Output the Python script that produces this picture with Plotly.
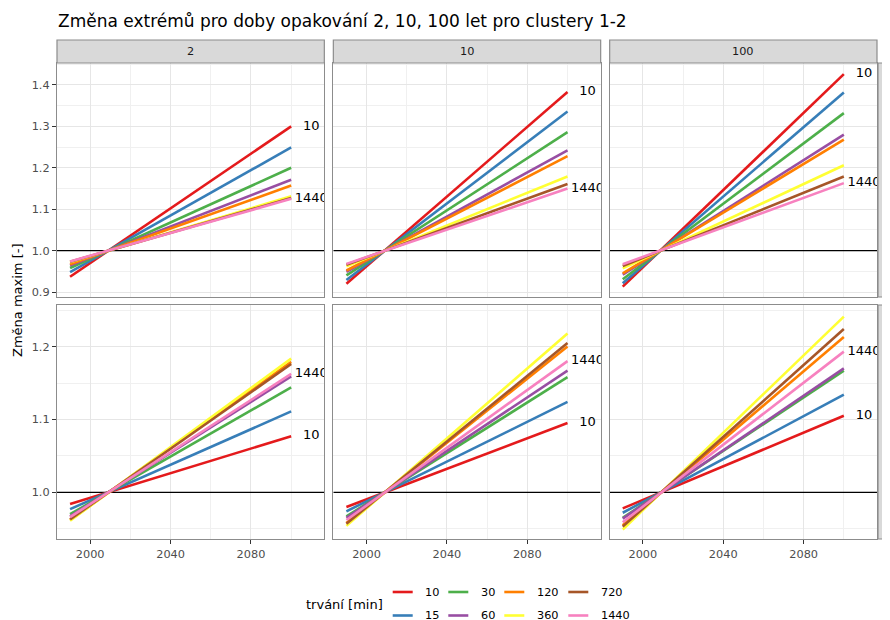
import plotly.graph_objects as go
from plotly.subplots import make_subplots

# ---------------- data ----------------
durations = [10, 15, 30, 60, 120, 360, 720, 1440]
colors = ["#E41A1C", "#377EB8", "#4DAF4A", "#984EA3", "#FF7F00", "#FFFF33", "#A65628", "#F781BF"]
return_periods = ["2", "10", "100"]
clusters = ["1", "2"]
years = [1990, 2100]
label_year = 2110
ref_value = 1.0

# cluster 1
c1_rp2_start = [0.937, 0.948, 0.958, 0.964, 0.967, 0.972, 0.973, 0.974]
c1_rp2_end = [1.300, 1.249, 1.200, 1.171, 1.157, 1.131, 1.127, 1.125]
c1_rp10_start = [0.920, 0.929, 0.940, 0.949, 0.952, 0.962, 0.966, 0.968]
c1_rp10_end = [1.383, 1.336, 1.286, 1.242, 1.228, 1.179, 1.161, 1.150]
c1_rp100_start = [0.913, 0.921, 0.931, 0.942, 0.945, 0.957, 0.963, 0.967]
c1_rp100_end = [1.426, 1.382, 1.332, 1.280, 1.268, 1.206, 1.179, 1.163]
# cluster 2
c2_rp2_start = [0.984, 0.977, 0.970, 0.967, 0.962, 0.961, 0.963, 0.966]
c2_rp2_end = [1.077, 1.111, 1.144, 1.159, 1.179, 1.1835, 1.176, 1.1625]
c2_rp10_start = [0.980, 0.974, 0.967, 0.965, 0.958, 0.954, 0.957, 0.962]
c2_rp10_end = [1.095, 1.124, 1.158, 1.167, 1.200, 1.218, 1.205, 1.180]
c2_rp100_start = [0.978, 0.972, 0.965, 0.964, 0.955, 0.949, 0.953, 0.959]
c2_rp100_end = [1.105, 1.134, 1.167, 1.170, 1.213, 1.241, 1.224, 1.193]

panels = {
    ("1", "2"): (c1_rp2_start, c1_rp2_end),
    ("1", "10"): (c1_rp10_start, c1_rp10_end),
    ("1", "100"): (c1_rp100_start, c1_rp100_end),
    ("2", "2"): (c2_rp2_start, c2_rp2_end),
    ("2", "10"): (c2_rp10_start, c2_rp10_end),
    ("2", "100"): (c2_rp100_start, c2_rp100_end),
}
y_ranges = {"1": [0.888, 1.453], "2": [0.936, 1.257]}
x_range = [1983.5, 2116.5]

# ---------------- layout geometry ----------------
# page positions below are measured in the browser window; the figure sits at an 8 px page offset
OFF = 8
W, H = 890, 620
ML, MR, MT, MB = 49, 21, 55, 89
PW, PH = W - ML - MR, H - MT - MB
FONT = "DejaVu Sans"
BORDER = "#8C8C8C"

def px_x(x):
    return (x - OFF - ML) / PW

def px_y(y):
    return (H - MB - (y - OFF)) / PH

fig = make_subplots(rows=2, cols=3, horizontal_spacing=9 / PW, vertical_spacing=8 / PH)

for r, cl in enumerate(clusters, start=1):
    for c, rp in enumerate(return_periods, start=1):
        start, end = panels[(cl, rp)]
        # reference line at 1.0 across the panel (drawn first, under the series)
        fig.add_trace(go.Scatter(x=x_range, y=[ref_value, ref_value], mode="lines",
                                 line=dict(color="#000000", width=1.3),
                                 showlegend=False, hoverinfo="skip"),
                      row=r, col=c)
        for i, d in enumerate(durations):
            fig.add_trace(go.Scatter(x=years, y=[start[i], end[i]], mode="lines",
                                     line=dict(color=colors[i], width=2.6),
                                     name=str(d), showlegend=False, hoverinfo="skip"),
                          row=r, col=c)
        fig.add_trace(go.Scatter(x=[label_year, label_year], y=[end[0], end[-1]],
                                 text=[str(durations[0]), str(durations[-1])],
                                 mode="text", textposition="middle center",
                                 textfont=dict(family=FONT, size=13, color="#000000"),
                                 cliponaxis=True, showlegend=False, hoverinfo="skip"),
                      row=r, col=c)

        fig.update_xaxes(row=r, col=c, range=x_range, dtick=40, tick0=2000,
                         showgrid=True, gridcolor="#E6E6E6", gridwidth=1.1,
                         minor=dict(dtick=20, tick0=2000, showgrid=True, gridcolor="#F0F0F0", gridwidth=0.7),
                         showline=True, mirror=True, linecolor=BORDER, linewidth=1.2,
                         zeroline=False,
                         showticklabels=(r == 2), ticks="outside" if r == 2 else "",
                         ticklen=4, tickcolor="#333333",
                         tickfont=dict(family=FONT, size=11.3, color="#4D4D4D"))
        fig.update_yaxes(row=r, col=c, range=y_ranges[cl], dtick=0.1, tick0=0.9,
                         tickformat=".1f",
                         showgrid=True, gridcolor="#E6E6E6", gridwidth=1.1,
                         minor=dict(dtick=0.05, tick0=0.9, showgrid=True, gridcolor="#F0F0F0", gridwidth=0.7),
                         showline=True, mirror=True, linecolor=BORDER, linewidth=1.2,
                         zeroline=False,
                         showticklabels=(c == 1), ticks="outside" if c == 1 else "",
                         ticklen=4, tickcolor="#333333",
                         tickfont=dict(family=FONT, size=11.3, color="#4D4D4D"))

# strips on top (return periods)
for c, rp in enumerate(return_periods, start=1):
    sfx = "" if c == 1 else str(c)
    fig.add_shape(type="rect", xref=f"x{sfx} domain", yref="paper",
                  x0=0, x1=1, y0=1.0, y1=1.0 + 23 / PH,
                  fillcolor="#D9D9D9", line=dict(color=BORDER, width=1.2))
    fig.add_annotation(xref=f"x{sfx} domain", yref="paper", x=0.5, y=1.0 + 11.5 / PH,
                       text=rp, showarrow=False, xanchor="center", yanchor="middle",
                       font=dict(family=FONT, size=11.3, color="#1A1A1A"))

# strips on the right (clusters)
for r, cl in enumerate(clusters, start=1):
    idx = (r - 1) * 3 + 3
    fig.add_shape(type="rect", xref="paper", yref=f"y{idx} domain",
                  x0=1.0 + 1 / PW, x1=1.0 + 24 / PW, y0=0, y1=1,
                  fillcolor="#D9D9D9", line=dict(color=BORDER, width=1.2))
    fig.add_annotation(xref="paper", yref=f"y{idx} domain", x=1.0 + 12.5 / PW, y=0.5,
                       text=cl, showarrow=False, textangle=90,
                       xanchor="center", yanchor="middle",
                       font=dict(family=FONT, size=11.3, color="#1A1A1A"))

# y axis title
fig.add_annotation(xref="paper", yref="paper", x=px_x(17), y=px_y(301),
                   text="Změna maxim [-]", showarrow=False, textangle=-90,
                   xanchor="center", yanchor="middle",
                   font=dict(family=FONT, size=13, color="#000000"))

# legend (ggplot-like 2 rows x 4 columns, column-major)
legend_title = "trvání [min]"
fig.add_annotation(xref="paper", yref="paper", x=px_x(304), y=px_y(604),
                   text=legend_title, showarrow=False, xanchor="left", yanchor="middle",
                   font=dict(family=FONT, size=13, color="#000000"))
key_x = [392.7, 448.3, 504.3, 568.3]
row_y = [592, 615.5]
for i, d in enumerate(durations):
    col, row = i // 2, i % 2
    kx, ky = key_x[col], row_y[row]
    fig.add_shape(type="line", xref="paper", yref="paper",
                  x0=px_x(kx), x1=px_x(kx + 20), y0=px_y(ky), y1=px_y(ky),
                  line=dict(color=colors[i], width=2.6))
    fig.add_annotation(xref="paper", yref="paper", x=px_x(kx + 30.5), y=px_y(ky),
                       text=str(d), showarrow=False, xanchor="left", yanchor="middle",
                       font=dict(family=FONT, size=11.3, color="#000000"))

fig.update_layout(
    width=W, height=H,
    margin=dict(l=ML, r=MR, t=MT, b=MB),
    paper_bgcolor="white", plot_bgcolor="white",
    title=dict(text="Změna extrémů pro doby opakování 2, 10, 100 let pro clustery 1-2",
               x=(58 - OFF) / W, xref="container", xanchor="left",
               y=1 - (21.5 - OFF) / H, yref="container", yanchor="middle",
               font=dict(family=FONT, size=17, color="#000000")),
    showlegend=False,
    font=dict(family=FONT),
)

fig.write_html("out.html")
